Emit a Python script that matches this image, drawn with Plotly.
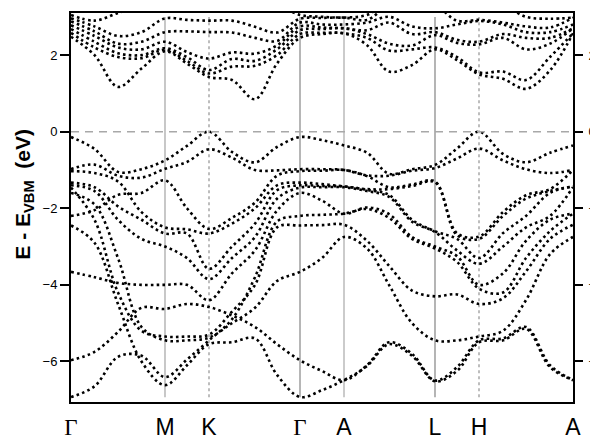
import plotly.graph_objects as go

# k-path sample positions (path length units) and high-symmetry points
kpath = [0, 23.5, 47, 70.5, 94, 116, 138, 161, 184, 206, 229, 251, 273,
         296, 318, 341, 364, 386, 408, 432, 455, 479, 502]
sym_pos = [0, 94, 138, 229, 273, 364, 408, 502]
sym_labels = ["Γ", "M", "K", "Γ", "A", "L", "H", "A"]
y_ticks = [-6, -4, -2, 0, 2]

# valence bands (eV, relative to VBM)
vb01 = [-0.14, -0.45, -1.05, -0.98, -0.75, -0.37, 0.00, -0.53, -0.80, -0.40, -0.14, -0.22, -0.36, -0.55, -1.10, -0.98, -0.87, -0.44, 0.00, -0.58, -0.80, -0.55, -0.36]
vb02 = [-0.98, -0.86, -1.15, -1.20, -0.97, -0.79, -0.46, -0.68, -1.00, -1.01, -0.98, -0.98, -1.00, -1.14, -1.15, -1.02, -0.95, -0.70, -0.44, -0.75, -0.98, -1.08, -1.00]
vb03 = [-2.20, -2.05, -1.65, -1.60, -1.27, -2.00, -2.54, -2.25, -1.85, -1.15, -1.03, -1.02, -1.00, -1.16, -1.45, -1.38, -1.30, -2.65, -2.74, -2.10, -1.66, -1.50, -1.00]
vb04 = [-1.03, -1.08, -1.30, -2.10, -2.50, -2.55, -2.66, -2.40, -2.00, -1.40, -1.33, -1.37, -1.43, -1.50, -1.50, -1.42, -1.32, -2.70, -2.80, -2.20, -1.75, -1.55, -1.43]
vb05 = [-1.33, -1.45, -1.95, -2.30, -2.66, -2.66, -3.58, -3.00, -2.40, -1.53, -1.40, -1.42, -1.43, -1.52, -1.65, -2.30, -2.60, -2.80, -3.30, -2.65, -2.20, -1.60, -1.43]
vb06 = [-1.40, -1.55, -2.30, -2.80, -3.00, -3.30, -3.85, -3.30, -2.75, -1.75, -1.46, -1.45, -1.45, -1.55, -1.70, -2.35, -2.62, -3.10, -3.45, -3.00, -2.50, -2.20, -1.45]
vb07 = [-3.66, -3.80, -3.95, -4.00, -4.00, -4.00, -4.40, -3.70, -3.10, -2.06, -1.60, -1.80, -2.14, -1.98, -2.15, -2.75, -3.00, -3.25, -4.00, -3.70, -2.85, -2.30, -2.14]
vb08 = [-5.97, -5.75, -5.23, -4.60, -4.63, -4.50, -4.58, -4.80, -5.10, -5.55, -5.97, -6.25, -6.49, -6.10, -5.50, -5.80, -6.50, -6.15, -5.45, -5.40, -5.10, -6.10, -6.49]
vb09 = [-1.46, -2.30, -4.20, -5.20, -5.35, -5.35, -5.30, -4.70, -4.00, -2.50, -2.45, -2.44, -2.43, -2.85, -3.50, -4.15, -4.30, -4.25, -4.50, -4.35, -3.65, -2.80, -2.43]
vb10 = [-1.60, -1.90, -3.30, -5.10, -5.45, -5.45, -5.38, -5.00, -4.60, -3.90, -3.66, -3.30, -2.75, -3.05, -4.00, -5.00, -5.45, -5.45, -5.35, -5.20, -4.40, -3.20, -2.75]
vb11 = [-6.93, -6.65, -5.88, -5.85, -6.41, -5.95, -5.45, -4.90, -3.80, -2.35, -2.20, -2.17, -2.14, -2.02, -2.25, -2.80, -3.05, -3.40, -4.10, -4.20, -3.30, -2.60, -2.14]
vb12 = [-2.45, -2.90, -4.50, -6.00, -6.62, -6.10, -5.55, -5.50, -5.40, -6.35, -6.93, -6.75, -6.49, -6.12, -5.55, -5.85, -6.52, -6.25, -5.50, -5.45, -5.15, -6.15, -6.49]

# conduction bands (eV)
cb01 = [2.48, 2.00, 1.17, 1.65, 2.10, 1.78, 1.43, 1.35, 0.85, 1.78, 2.45, 2.55, 2.57, 2.26, 1.57, 1.74, 2.15, 1.87, 1.50, 1.38, 1.12, 1.60, 2.57]
cb02 = [2.58, 2.20, 1.95, 1.92, 2.14, 1.85, 1.52, 1.70, 1.72, 2.00, 2.55, 2.58, 2.57, 2.45, 2.12, 2.15, 2.20, 1.95, 1.55, 1.57, 1.35, 1.95, 2.57]
cb03 = [2.68, 2.35, 2.05, 2.00, 2.18, 1.95, 1.61, 1.90, 1.85, 2.15, 2.65, 2.68, 2.70, 2.55, 2.30, 2.25, 2.52, 2.32, 2.28, 2.45, 2.15, 2.30, 2.70]
cb04 = [2.78, 2.50, 2.20, 2.15, 2.35, 2.08, 1.91, 2.07, 2.04, 2.25, 2.75, 2.72, 2.70, 2.65, 2.85, 2.55, 2.60, 2.40, 2.35, 2.55, 2.45, 2.45, 2.70]
cb05 = [2.88, 2.62, 2.30, 2.35, 2.60, 2.62, 2.60, 2.59, 2.45, 2.37, 2.85, 2.80, 2.80, 2.85, 3.00, 2.75, 2.70, 2.80, 2.89, 2.80, 2.60, 2.60, 2.80]
cb06 = [2.96, 2.75, 2.50, 2.60, 2.96, 2.92, 2.90, 2.90, 2.74, 2.59, 2.95, 2.97, 2.98, 2.92, 3.30, 3.30, 3.30, 2.90, 2.92, 2.85, 2.75, 2.72, 2.98]
cb07 = [3.05, 2.90, 3.10, 3.30, 3.30, 3.30, 3.30, 3.30, 3.30, 3.30, 3.05, 3.00, 2.98, 3.05, 3.40, 3.40, 3.40, 3.30, 3.30, 3.30, 3.00, 2.95, 2.98]

valence = [vb01, vb02, vb03, vb04, vb05, vb06, vb07, vb08, vb09, vb10, vb11, vb12]
conduction = [cb01, cb02, cb03, cb04, cb05, cb06, cb07]

YMIN, YMAX = -7.06, 3.10

fig = go.Figure()
for band in valence + conduction:
    fig.add_trace(go.Scatter(
        x=kpath, y=band, mode="lines", hoverinfo="skip", showlegend=False,
        line=dict(color="black", width=2.6, shape="spline", smoothing=1.0,
                  dash="2.6px,3.2px")))

# VBM reference line on the right-hand axis
fig.add_trace(go.Scatter(
    x=[sym_pos[0], sym_pos[-1]], y=[0, 0], yaxis="y2", mode="lines",
    hoverinfo="skip", showlegend=False,
    line=dict(color="#a8a8a8", width=1.6, dash="8px,6px")))

line_styles = {1: ("#9a9a9a", "solid"), 2: ("#888888", "dot"), 3: ("#7a7a7a", "solid"),
               4: ("#a0a0a0", "solid"), 5: ("#777777", "solid"), 6: ("#888888", "dot")}
shapes = []
for i, xp in enumerate(sym_pos[1:-1], start=1):
    col, dsh = line_styles[i]
    shapes.append(dict(type="line", xref="x", yref="paper", x0=xp, x1=xp,
                       y0=0.012, y1=0.99, layer="below",
                       line=dict(color=col, width=1.1, dash=dsh)))

tick_text = [('<span style="font-family:Liberation Serif">%s</span>' % t) if t == "Γ" else t
             for t in sym_labels]

# the page body adds an 8px offset, so margins are reduced by 8px on left/top
fig.update_layout(
    width=598, height=440,
    margin=dict(l=63, r=33, t=5, b=46, autoexpand=False),
    paper_bgcolor="white", plot_bgcolor="white",
    font=dict(family="Liberation Sans, Arial, sans-serif", color="black"),
    shapes=shapes,
    annotations=[dict(text="<b>E - E<sub>VBM</sub>  (eV)</b>", textangle=-90,
                      xref="paper", yref="paper", x=-0.094, y=0.535,
                      xanchor="center", yanchor="middle", showarrow=False,
                      font=dict(size=21, color="black"))],
    xaxis=dict(range=[sym_pos[0], sym_pos[-1]], tickvals=sym_pos, ticktext=tick_text,
               ticks="", showgrid=False, zeroline=False, showline=True, mirror=True,
               linecolor="black", linewidth=2, ticklabelstandoff=3,
               tickfont=dict(size=23, family="Liberation Sans, Arial, sans-serif")),
    yaxis=dict(range=[YMIN, YMAX], tickvals=y_ticks, ticks="outside", ticklen=9,
               tickwidth=2, tickcolor="black", showgrid=False, zeroline=False,
               showline=True, mirror=True, linecolor="black", linewidth=2,
               tickfont=dict(size=13)),
    yaxis2=dict(range=[YMIN, YMAX], tickvals=y_ticks, overlaying="y", side="right",
                anchor="x", ticks="outside", ticklen=9, tickwidth=2, tickcolor="black",
                showgrid=False, zeroline=False, showline=False,
                ticklabelstandoff=3, tickfont=dict(size=13)),
)

fig.write_html("out.html")
